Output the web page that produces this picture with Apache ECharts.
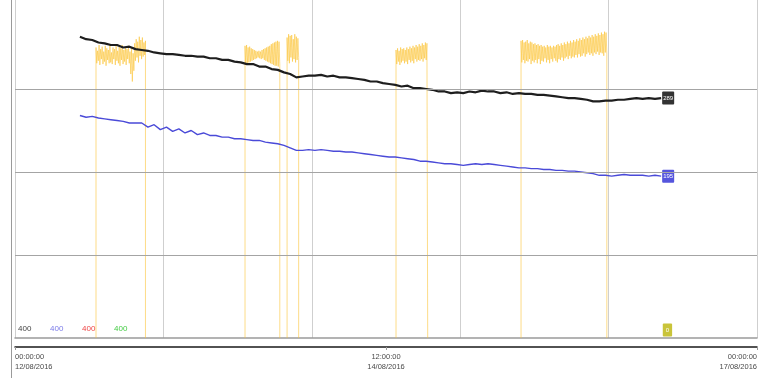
<!DOCTYPE html>
<html>
<head>
<meta charset="utf-8">
<script src="https://cdn.jsdelivr.net/npm/echarts@6/dist/echarts.min.js"></script>
<style>
  html, body { margin: 0; padding: 0; background: #fff; }
  #chart { width: 760px; height: 378px; }
</style>
</head>
<body>
<div id="chart"></div>
<script>
// Time is counted in hours from 12/08/2016 00:00 (UTC).
const START_UTC = Date.UTC(2016, 7, 12);
const rangeHours = [0, 120];
const levelLines = [100, 200, 300];

// Logged channels, one sample per hour starting at 10:30 on 12/08.
const sampleStart = 10.5;
const sampleStep = 1;
const blackValues = [
  363, 360, 359, 356, 355, 353, 353, 350, 351, 348,
  347, 346, 344, 343, 342, 342, 341, 340, 340, 339,
  339, 337, 337, 335, 335, 333, 332, 330, 330, 327,
  327, 324, 323, 320, 318, 314, 315, 316, 316, 317,
  315, 316, 314, 314, 313, 312, 311, 309, 309, 307,
  306, 305, 303, 304, 301, 301, 300, 299, 297, 297,
  295, 296, 295, 297, 296, 298, 297, 297, 295, 296,
  294, 295, 294, 294, 293, 293, 292, 291, 290, 289,
  289, 288, 287, 285, 285, 286, 286, 287, 287, 288,
  289, 288, 289, 288, 289
];
const blueValues = [
  268, 266, 267, 265, 264, 263, 262, 261, 259, 259,
  259, 254, 257, 251, 254, 249, 252, 247, 250, 245,
  247, 244, 244, 242, 242, 240, 240, 239, 238, 238,
  236, 235, 234, 232, 229, 226, 226, 227, 226, 227,
  226, 225, 225, 224, 224, 223, 222, 221, 220, 219,
  218, 218, 217, 216, 215, 213, 213, 212, 211, 210,
  210, 209, 208, 209, 210, 209, 210, 209, 208, 207,
  206, 205, 205, 204, 204, 203, 203, 202, 202, 201,
  201, 200, 199, 198, 196, 196, 195, 196, 197, 196,
  196, 196, 195, 196, 195
];

// Pulsed channel: bursts sampled every 7.5 minutes, zero in between.
const pulseStep = 0.125;
const pulseStarts = [13.1, 37.2, 44.0, 61.62, 81.84];
const pulse1 = [
  350, 331, 346, 334, 353, 329, 348, 336, 351, 330,
  345, 333, 352, 328, 349, 335, 347, 331, 353, 332,
  344, 330, 350, 336, 348, 329, 352, 334, 346, 331,
  351, 328, 349, 335, 353, 330, 347, 333, 350, 329,
  348, 336, 352, 331, 345, 318, 349, 309, 343, 322,
  355, 334, 360, 338, 357, 332, 363, 340, 359, 336,
  362, 339, 356, 341, 358
];
const pulse2 = [
  352, 329, 353, 331, 350, 332, 351, 333, 349, 334,
  348, 335, 347, 336, 346, 337, 345, 338, 346, 337,
  345, 336, 347, 337, 348, 335, 349, 334, 350, 333,
  351, 332, 352, 331, 354, 330, 355, 329, 356, 328,
  357, 328, 358, 327, 357, 329
];
const pulse3 = [
  362, 334, 366, 331, 364, 338, 365, 333, 360, 336,
  366, 332, 363, 335, 361, 338
];
const pulse4 = [
  347, 330, 349, 333, 346, 329, 350, 332, 348, 334,
  349, 331, 347, 333, 350, 330, 348, 335, 351, 332,
  349, 334, 352, 331, 350, 336, 353, 333, 351, 335,
  354, 334, 352, 336, 355, 333, 353, 337, 356, 335,
  355, 357
];
const pulse5 = [
  358, 332, 359, 335, 356, 331, 357, 334, 359, 333,
  355, 336, 357, 330, 356, 334, 354, 332, 355, 335,
  353, 331, 354, 336, 352, 330, 353, 334, 351, 333,
  352, 337, 350, 332, 353, 335, 351, 331, 352, 336,
  350, 333, 352, 337, 351, 334, 353, 332, 354, 336,
  352, 335, 355, 338, 353, 334, 356, 337, 354, 339,
  357, 336, 355, 340, 358, 337, 356, 339, 359, 338,
  357, 341, 360, 338, 358, 342, 361, 339, 359, 340,
  362, 343, 360, 339, 363, 342, 361, 344, 364, 341,
  362, 343, 365, 340, 363, 344, 366, 342, 364, 345,
  367, 341, 365, 344, 368, 343, 366, 340, 369, 344,
  368, 342
];
const pulseBursts = [pulse1, pulse2, pulse3, pulse4, pulse5];
const pulseLast = [104.6, 0];

// Channel scale labels in the lower-left corner.
const scaleLabels = ['400', '400', '400', '400'];
const scaleColors = ['#444444', '#7a7ae8', '#ee4444', '#44cc44'];

const lineData = (vals) => vals.map((v, i) => [sampleStart + i * sampleStep, v]);

const pulseData = [];
pulseBursts.forEach((vals, b) => {
  const t0 = pulseStarts[b];
  const tEnd = t0 + (vals.length - 1) * pulseStep;
  pulseData.push([t0, 0]);
  vals.forEach((v, i) => pulseData.push([t0 + i * pulseStep, v]));
  pulseData.push([tEnd, 0]);
  pulseData.push([tEnd, null]);
});
pulseData.push(pulseLast);

const pad = (n) => String(n).padStart(2, '0');
function fmtTime(h) {
  const d = new Date(START_UTC + h * 3600000);
  return pad(d.getUTCHours()) + ':' + pad(d.getUTCMinutes()) + ':' + pad(d.getUTCSeconds()) +
    '\n' + pad(d.getUTCDate()) + '/' + pad(d.getUTCMonth() + 1) + '/' + d.getUTCFullYear();
}

const FONT = '"Liberation Sans Narrow", "Liberation Sans", Arial, sans-serif';

function tag(bg, padX) {
  return {
    show: true,
    formatter: (p) => String(Math.round(p.value[1])),
    color: '#fff',
    fontSize: 6,
    fontFamily: FONT,
    backgroundColor: bg,
    padding: [4, padX, 3, padX],
    borderRadius: 1,
    distance: 1
  };
}

const chart = echarts.init(document.getElementById('chart'), null, { renderer: 'canvas' });

chart.setOption({
  animation: false,
  backgroundColor: '#ffffff',
  grid: { left: 15, right: 3, top: 0, bottom: 40, containLabel: false },
  xAxis: [
    {
      type: 'value', min: rangeHours[0], max: rangeHours[1], interval: 24,
      position: 'bottom',
      axisLine: { show: true, onZero: false, lineStyle: { color: '#9a9a9a', width: 1.5 } },
      axisTick: { show: false },
      axisLabel: { show: false },
      splitLine: { show: true, lineStyle: { color: '#cfcfcf', width: 1 } }
    },
    {
      type: 'value', min: rangeHours[0], max: rangeHours[1], interval: 60,
      position: 'bottom', offset: 9,
      axisLine: { show: true, onZero: false, lineStyle: { color: '#1a1a1a', width: 1.5 } },
      axisTick: { show: true, length: 3, lineStyle: { color: '#999' } },
      axisLabel: {
        show: true, formatter: fmtTime, fontSize: 7.5, lineHeight: 10,
        fontFamily: FONT, color: '#4a4a4a', margin: 5,
        alignMinLabel: 'left', alignMaxLabel: 'right'
      },
      splitLine: { show: false }
    }
  ],
  yAxis: {
    type: 'value', min: 0, max: 407.2,
    axisLine: { show: false }, axisTick: { show: false }, axisLabel: { show: false },
    splitLine: { show: false }
  },
  series: [
    {
      name: 'pulse', type: 'line', xAxisIndex: 0, data: pulseData,
      showSymbol: false, connectNulls: false,
      lineStyle: { color: '#fbc437', width: 0.8, opacity: 0.75 },
      itemStyle: { color: '#fbc437' },
      endLabel: Object.assign(tag('#c9c43a', 3), { offset: [0, -8] }),
      markLine: {
        silent: true, symbol: 'none', label: { show: false },
        lineStyle: { color: '#a4a4a4', width: 1, type: 'solid', opacity: 1 },
        data: levelLines.map((v) => ({ yAxis: v }))
      },
      z: 2
    },
    {
      name: 'black', type: 'line', xAxisIndex: 0, data: lineData(blackValues),
      showSymbol: false,
      lineStyle: { color: '#1e1e1e', width: 2.2 },
      itemStyle: { color: '#1e1e1e' },
      endLabel: tag('#333333', 1),
      z: 3
    },
    {
      name: 'blue', type: 'line', xAxisIndex: 0, data: lineData(blueValues),
      showSymbol: false,
      lineStyle: { color: '#4a4ad8', width: 1.4 },
      itemStyle: { color: '#4a4ad8' },
      endLabel: tag('#5555dd', 1),
      z: 3
    }
  ],
  graphic: [
    {
      type: 'line', silent: true, z: 10,
      shape: { x1: 11.5, y1: 0, x2: 11.5, y2: 378 },
      style: { stroke: '#9a9a9a', lineWidth: 1 }
    }
  ].concat(scaleLabels.map((t, i) => ({
    type: 'text', silent: true, z: 10,
    x: 18 + i * 32, y: 325,
    style: { text: t, fill: scaleColors[i], font: '8px ' + FONT }
  })))
});
</script>
</body>
</html>
